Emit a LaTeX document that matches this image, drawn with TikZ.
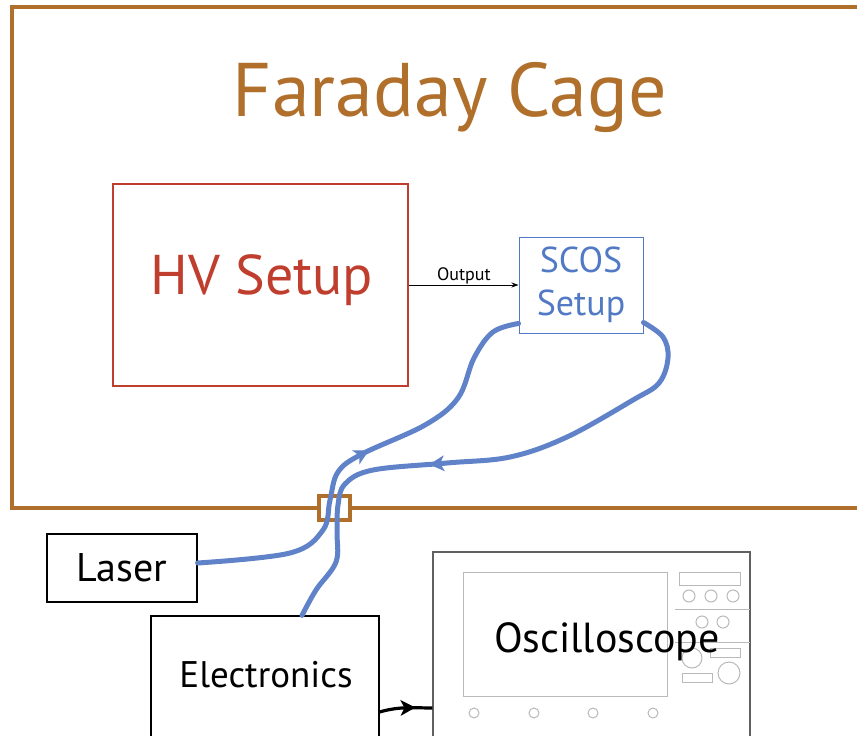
\documentclass[tikz,border=0pt]{standalone}
\usepackage{fontspec}
\setmainfont{PT Sans}
\usetikzlibrary{arrows.meta,decorations.markings}

\definecolor{cagebrown}{RGB}{176,112,44}
\definecolor{hvred}{RGB}{192,62,46}
\definecolor{scosblue}{RGB}{82,122,196}
\definecolor{fibreblue}{RGB}{96,130,200}
\definecolor{scopedark}{RGB}{96,96,96}
\definecolor{scopelight}{RGB}{185,185,185}

\tikzset{
  box/.style={draw=black, line width=1.2pt, inner sep=0pt},
  fibre/.style={draw=fibreblue, line width=5pt, line cap=round},
  midtip/.style 2 args={postaction={decorate}, decoration={markings,
      mark=at position #1 with {\fill [#2] (7pt,0pt) -- (-8pt,8pt) -- (-4pt,0pt) -- (-8pt,-8pt) -- cycle;}}},
}

\begin{document}
\begin{tikzpicture}[x=1pt, y=-1pt]
\useasboundingbox (0,0) rectangle (857,736);
\clip (0,0) rectangle (857,736);

% cage
\node [draw=cagebrown, line width=4pt, minimum width=858pt, minimum height=501pt] (cage) at (441,257.5) {};
\node [text=cagebrown, font=\fontsize{76}{80}\selectfont] (title) at (450,97) {Faraday Cage};

% inside the cage
\node [draw=hvred, line width=2.6pt, minimum width=295pt, minimum height=202pt] (hv) at (260.5,285) {};
\node [text=hvred, font=\fontsize{56}{60}\selectfont] (hvtxt) at (262,280) {HV Setup};
\node [draw=scosblue, line width=1pt, minimum width=124pt, minimum height=96pt, text=scosblue,
       align=center, inner sep=0pt, font=\fontsize{36}{43}\selectfont] (scos) at (581,285) {SCOS\\Setup};
\path [draw, line width=0.8pt, -{Stealth[length=7pt,width=5pt]}] (hv.east) -- node [above, inner sep=0.5pt, font=\fontsize{18}{20}\selectfont] (outlbl) {Output} (scos.west);

% outside the cage
\node [box, minimum width=150pt, minimum height=68pt, font=\fontsize{40}{44}\selectfont] (laser) at (122,568) {Laser};
\node [box, minimum width=228pt, minimum height=184pt] (elec) at (265,708) {};
\node [font=\fontsize{37}{40}\selectfont] (electxt) at (266,675) {Electronics};

% oscilloscope
\node [draw=scopedark, line width=1.4pt, minimum width=317pt, minimum height=312pt] (scope) at (591.5,708) {};
\begin{scope}[draw=scopelight, line width=1pt]
\node [draw=scopelight, line width=1pt, minimum width=204pt, minimum height=124pt] (screen) at (565,634) {};
\draw (679,572) rectangle (740,585);
\foreach \x in {689,711,733} \draw (\x,596) circle (6);
\draw (675,609) -- (750,609);
\foreach \x in {702,723} \draw (\x,622) circle (6);
\draw (675,642) -- (750,642);
\draw (710,648) rectangle (740,657);
\draw (692,658) circle (10);
\draw (729,673) circle (11);
\draw (682,673) rectangle (712,682);
\foreach \x in {474,534,593,653} \draw (\x,713) circle (5);
\end{scope}
\node [font=\fontsize{42}{46}\selectfont] (scopetxt) at (607,642) {Oscilloscope};

% feedthrough
\node [draw=cagebrown, fill=white, line width=4pt, minimum width=31pt, minimum height=24pt] (feed) at (334.5,508) {};

% fibres
\path [fibre, midtip={226pt}{fibreblue}] plot [smooth, tension=0.6] coordinates {([yshift=5pt]laser.east) (290,553) (323,530) (330,500) (338,472) (362,454) (425,425) (458,398) (474,358) (493,332) ([yshift=10pt]scos.south west)};
\path [fibre, midtip={315pt}{fibreblue}] plot [smooth, tension=0.6] coordinates {([yshift=11pt]scos.south east) (663,337) (668,358) (659,383) (633,400) (567,437) (510,457) (447,463) (373,470) (345,484) (338,505) (337,532) (336,562) (316,590) ([xshift=37pt]elec.north)};

% signal to scope
\path [draw, line width=3.2pt, midtip={0.55}{black}] ([yshift=-4pt]elec.east) .. controls (400,706) and (415,708) .. (scope.west);
\end{tikzpicture}
\end{document}
